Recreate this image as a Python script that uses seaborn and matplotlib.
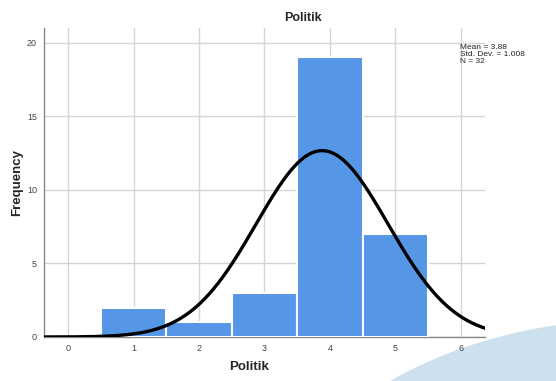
import numpy as np
import pandas as pd
import seaborn as sns
import matplotlib
matplotlib.use("Agg")
import matplotlib.pyplot as plt
from matplotlib.patches import Ellipse

categories = [1, 2, 3, 4, 5]
counts = [2, 1, 3, 19, 7]
mean_val = 3.88
std_val = 1.008
n_val = 32
x_ticks = [0, 1, 2, 3, 4, 5, 6]
y_ticks = [0, 5, 10, 15, 20]

sns.set_style("white")
plt.rcParams['font.family'] = ['Liberation Sans', 'DejaVu Sans']

fig = plt.figure(figsize=(5.56, 3.81), dpi=100)
# background decoration (light blue arc at bottom right)
bg = Ellipse((640 / 556, 1 - 560 / 381), 746 / 556, 482 / 381, transform=fig.transFigure,
             facecolor="#cde0ee", edgecolor="none", zorder=-5)
fig.patches.append(bg)

ax = fig.add_axes([44 / 556, 44 / 381, 441 / 556, 309 / 381])
ax.set_zorder(1)
ax.set_facecolor("none")

df = pd.DataFrame({"Politik": categories, "count": counts})
sns.histplot(data=df, x="Politik", weights="count", discrete=True, ax=ax,
             color="#5596e6", alpha=1.0, edgecolor="white", linewidth=1.5, zorder=3)

xs = np.linspace(-0.4, 6.4, 400)
ys = n_val * 1.0 / (std_val * np.sqrt(2 * np.pi)) * np.exp(-0.5 * ((xs - mean_val) / std_val) ** 2)
sns.lineplot(x=xs, y=ys, ax=ax, color="black", linewidth=2.4, zorder=4)

ax.set_xlim(-0.37, 6.37)
ax.set_ylim(0, 21)
ax.set_xticks(x_ticks)
ax.set_yticks(y_ticks)
ax.grid(True, color="#d4d4d4", linewidth=1.0, zorder=0)
ax.set_axisbelow(True)
for s in ["top", "right"]:
    ax.spines[s].set_visible(False)
for s in ["left", "bottom"]:
    ax.spines[s].set_color("#888888")
    ax.spines[s].set_linewidth(1.0)
ax.tick_params(axis="both", length=0, labelsize=6.5, labelcolor="#444444", pad=5)
ax.set_xlabel("")
ax.set_ylabel("")

fig.text(303 / 556, 1 - 18 / 381, "Politik", ha="center", va="center",
         fontsize=9, fontweight="bold")
fig.text(249 / 556, 1 - 367 / 381, "Politik", ha="center", va="center",
         fontsize=9.5, fontweight="bold")
fig.text(17 / 556, 1 - 182 / 381, "Frequency", ha="center", va="center",
         rotation=90, fontsize=9.5, fontweight="bold")
fig.text(460 / 556, 1 - 44 / 381, "Mean = 3.88\nStd. Dev. = 1.008\nN = 32",
         ha="left", va="top", fontsize=6, color="#222222", linespacing=1.0)

fig.savefig("out.png", dpi=100)
